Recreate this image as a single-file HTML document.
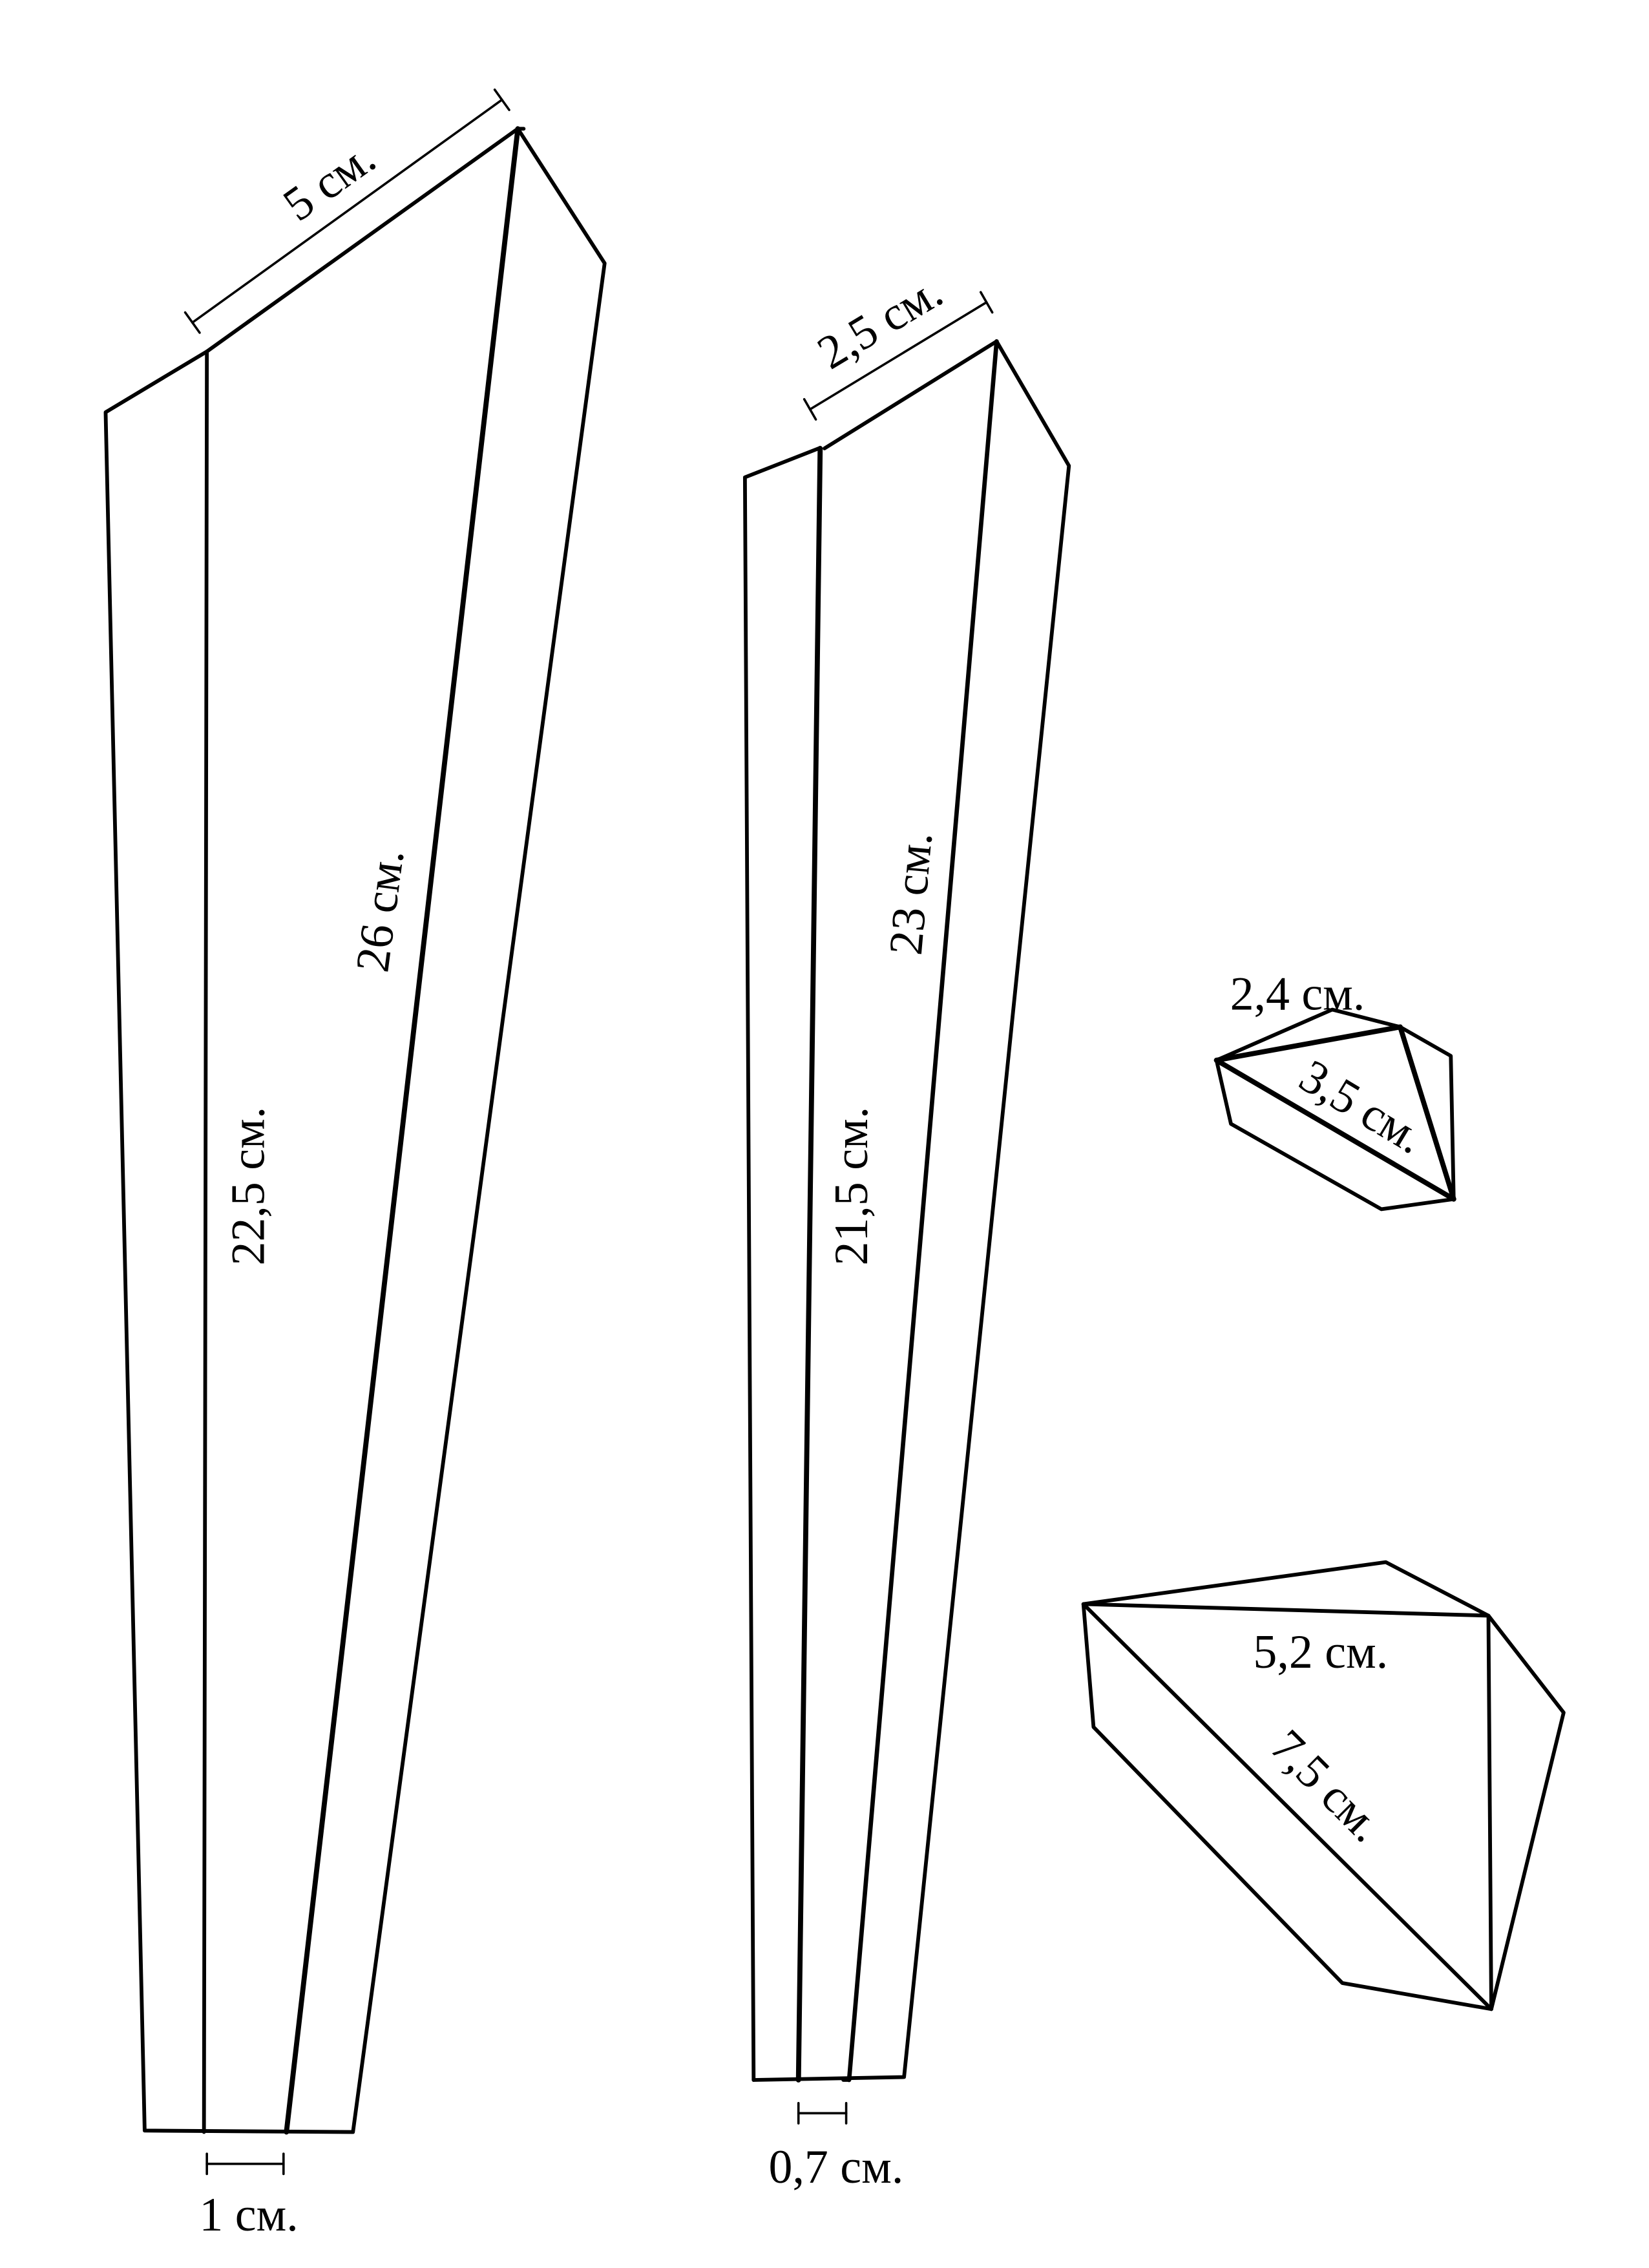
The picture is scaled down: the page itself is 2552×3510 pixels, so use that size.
<!DOCTYPE html>
<html><head><meta charset="utf-8">
<style>
html,body{margin:0;padding:0;background:#fff;}
svg{display:block;}
text{font-family:"Liberation Serif",serif;font-size:33px;fill:#000;}
</style></head>
<body>
<svg width="2552" height="3510" viewBox="0 0 1140 1568" xmlns="http://www.w3.org/2000/svg">
<g fill="none" stroke="#000" stroke-width="2.6" stroke-linejoin="round" stroke-linecap="round">
<polyline points="100,1473 73,285 143,243 358,89 418,182 244,1474 100,1473"/>
<line x1="143" y1="243" x2="141" y2="1474"/>
<line x1="358" y1="89" x2="198" y2="1474" stroke-width="3.5"/>
<line x1="362" y1="89" x2="358" y2="89"/>
<line x1="133" y1="223" x2="347" y2="69" stroke-width="1.6"/>
<line x1="128" y1="216" x2="138" y2="230" stroke-width="1.6"/>
<line x1="342" y1="62" x2="352" y2="76" stroke-width="1.6"/>
<line x1="143" y1="1496" x2="196" y2="1496" stroke-width="1.6"/>
<line x1="143" y1="1489" x2="143" y2="1503" stroke-width="1.6"/>
<line x1="196" y1="1489" x2="196" y2="1503" stroke-width="1.6"/>

<polyline points="521,1438 515,330 566,310"/>
<polyline points="570,310 689,236 739,322 625,1436 521,1438"/>
<line x1="567" y1="310" x2="552" y2="1438" stroke-width="3.5"/>
<line x1="689" y1="236" x2="587" y2="1438" stroke-width="3"/>
<line x1="583" y1="1438" x2="587" y2="1438"/>
<line x1="560" y1="283" x2="682" y2="209" stroke-width="1.6"/>
<line x1="556" y1="276" x2="564" y2="290" stroke-width="1.6"/>
<line x1="678" y1="202" x2="686" y2="216" stroke-width="1.6"/>
<line x1="552" y1="1461" x2="585" y2="1461" stroke-width="1.6"/>
<line x1="552" y1="1454" x2="552" y2="1468" stroke-width="1.6"/>
<line x1="585" y1="1454" x2="585" y2="1468" stroke-width="1.6"/>

<polygon points="841,733 921,698 968,710 1003,730 1005,829 955,836 851,777"/>
<line x1="841" y1="733" x2="968" y2="710" stroke-width="3.5"/>
<line x1="968" y1="710" x2="1005" y2="829" stroke-width="3.5"/>
<line x1="841" y1="733" x2="1005" y2="829" stroke-width="3.5"/>

<polygon points="749,1109 958,1080 1029,1117 1081,1184 1031,1389 928,1371 756,1194"/>
<line x1="749" y1="1109" x2="1029" y2="1117"/>
<line x1="1029" y1="1117" x2="1031" y2="1389"/>
<line x1="749" y1="1109" x2="1031" y2="1389"/>
</g>

<text x="234" y="134" text-anchor="middle" transform="rotate(-35.6 234 134)">5 см.</text>
<text x="266" y="630" text-anchor="middle" dominant-baseline="middle" transform="rotate(-82.5 266 630)">26 см.</text>
<text x="175" y="820" text-anchor="middle" dominant-baseline="middle" transform="rotate(-90 175 820)">22,5 см.</text>
<text x="172" y="1542" text-anchor="middle">1 см.</text>

<text x="614" y="232" text-anchor="middle" transform="rotate(-31 614 232)">2,5 см.</text>
<text x="633" y="618" text-anchor="middle" dominant-baseline="middle" transform="rotate(-85 633 618)">23 см.</text>
<text x="592" y="820" text-anchor="middle" dominant-baseline="middle" transform="rotate(-90 592 820)">21,5 см.</text>
<text x="578" y="1509" text-anchor="middle">0,7 см.</text>

<text x="897" y="698" text-anchor="middle">2,4 см.</text>
<text x="940" y="768" text-anchor="middle" dominant-baseline="middle" transform="rotate(31 940 768)">3,5 см.</text>

<text x="913" y="1153" text-anchor="middle">5,2 см.</text>
<text x="915" y="1237" text-anchor="middle" dominant-baseline="middle" transform="rotate(45 915 1237)">7,5 см.</text>
</svg>
</body></html>
